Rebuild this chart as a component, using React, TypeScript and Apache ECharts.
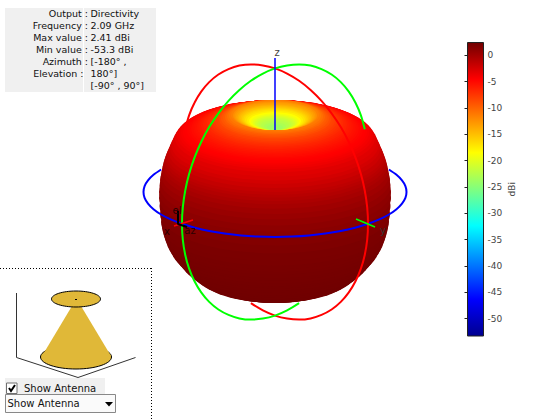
import React, { useEffect, useRef } from "react";
import * as echarts from "echarts";

const FONT = '"DejaVu Sans"';

// Read-out panel
const infoLabels = ["Output", "Frequency", "Max value", "Min value", "Azimuth", "Elevation", ""];
const infoValues = ["Directivity", "2.09 GHz", "2.41 dBi", "-53.3 dBi", "[-180\u00b0 ,", "180\u00b0]", "[-90\u00b0 , 90\u00b0]"];
const infoRows = [13, 25, 37, 49, 61, 73, 85];

// Colour bar
const barMin = -53.3;
const barMax = 2.41;
const barTicks = [0, -5, -10, -15, -20, -25, -30, -35, -40, -45, -50];
const jetLevels = [-53.3, -46.34, -32.4, -18.5, -4.57, 2.41];
const jetColors = [[0, 0, 143], [0, 0, 255], [0, 255, 255], [255, 255, 0], [255, 0, 0], [112, 0, 0]];

// Surface of the pattern: one latitude per entry, in picture units, painted bottom to top
const surfaceRadius = [40, 50, 60, 67, 75, 80, 85, 88.5, 92, 95, 98, 100.5, 103, 105, 107, 108.5, 110, 111, 112, 113, 114, 115, 115.5, 116, 116, 115.5, 115, 114, 113, 112, 111, 110, 109, 108, 106.5, 105, 103.5, 102, 100, 98, 96, 94, 92, 90, 88, 86, 84, 82, 80, 78, 76, 74, 72, 70, 68, 66, 64, 62, 60, 58, 56, 54, 52, 50, 48, 46, 44, 42, 40.5, 39, 37.5, 36, 34.5, 33, 31.5, 30, 28, 26, 24, 22, 20, 18, 16, 14, 11, 8];
const surfaceCentre = [289, 286, 282.5, 280, 277, 274, 270, 267, 264, 260.5, 257, 254, 251, 247.5, 244, 241, 237, 234, 231, 227, 222, 214, 206, 198, 192, 186, 180, 175, 170, 166, 163, 160, 157.5, 155, 151.5, 148, 145, 141.5, 138, 135.6, 134, 132.6, 131.7, 130.8, 130.1, 129.4, 128.7, 128, 127.4, 126.7, 126, 125.3, 124.6, 123.9, 123.3, 122.6, 121.9, 121.2, 120.5, 119.8, 119.2, 118.5, 117.8, 117.1, 116.4, 115.7, 115, 115.6, 116.1, 116.7, 117.2, 117.7, 118.2, 118.7, 119.2, 119.7, 120.4, 121.1, 121.8, 122.5, 123.2, 123.8, 124.5, 125.2, 126.2, 127.3];
const surfaceDbi = [2.41, 2.41, 2.41, 2.41, 2.41, 2.4, 2.38, 2.36, 2.33, 2.3, 2.28, 2.25, 2.22, 2.18, 2.15, 2.12, 2.08, 2.04, 2.0, 1.93, 1.85, 1.7, 1.5, 1.2, 1.0, 0.7, 0.42, 0.1, -0.25, -0.5, -0.8, -1.1, -1.4, -1.7, -2.1, -2.4, -2.8, -3.05, -3.45, -3.8, -4.05, -4.3, -4.45, -4.57, -4.75, -4.9, -5.1, -5.3, -5.45, -5.66, -5.9, -6.1, -6.35, -6.54, -6.85, -7.15, -7.4, -7.75, -8.05, -8.3, -8.8, -9.2, -9.6, -10.15, -10.7, -11.2, -11.6, -12.4, -13, -13.5, -14.1, -14.7, -15.2, -15.8, -16.4, -17, -17.7, -18.5, -19.2, -20, -20.8, -21.5, -22, -22.5, -23.1, -23.7];
const viewTilt = 0.342;

// Great-circle rings
const redRing = [[250.9, 303.2], [262.9, 310.4], [275, 315.6], [287.1, 318.6], [299.1, 319.6], [310.6, 318.4], [321.5, 314.9], [331.6, 309.5], [340.8, 301.9], [348.8, 292.4], [355.5, 281.3], [360.9, 268.7], [364.8, 254.7], [367.2, 239.6], [368, 223.8], [367.2, 207.4], [364.8, 190.7], [360.9, 174.1], [355.5, 157.7], [348.8, 142], [340.8, 127.1], [331.6, 113.3], [321.5, 100.9], [310.6, 90], [299.1, 80.8], [287.1, 73.6], [275, 68.4], [262.9, 65.4], [250.9, 64.4], [239.4, 65.6], [228.5, 69.1], [218.4, 74.5], [209.2, 82.1], [201.2, 91.6], [194.5, 102.7], [189.1, 115.3], [185.2, 129.3]];
const greenRing = [[299.1, 303.2], [287.1, 310.4], [275, 315.6], [262.9, 318.6], [250.9, 319.6], [239.4, 318.4], [228.5, 314.9], [218.4, 309.5], [209.2, 301.9], [201.2, 292.4], [194.5, 281.3], [189.1, 268.7], [185.2, 254.7], [182.8, 239.6], [182, 223.8], [182.8, 207.4], [185.2, 190.7], [189.1, 174.1], [194.5, 157.7], [201.2, 142], [209.2, 127.1], [218.4, 113.3], [228.5, 100.9], [239.4, 90], [250.9, 80.8], [262.9, 73.6], [275, 68.4], [287.1, 65.4], [299.1, 64.4], [310.6, 65.6], [321.5, 69.1], [331.6, 74.5], [340.8, 82.1], [348.8, 91.6], [355.5, 102.7], [360.9, 115.3], [364.8, 129.3]];
const blueRing = [[388.9, 169.5], [396.5, 174.8], [402, 180.4], [405.4, 186.1], [406.5, 192], [405.4, 197.9], [402, 203.6], [396.5, 209.2], [388.9, 214.5], [379.3, 219.4], [368, 223.8], [355.1, 227.7], [340.8, 231], [325.3, 233.6], [309, 235.5], [292.2, 236.6], [275, 237], [257.8, 236.6], [241, 235.5], [224.7, 233.6], [209.2, 231], [194.9, 227.7], [182, 223.8], [170.7, 219.4], [161.1, 214.5], [153.5, 209.2], [148, 203.6], [144.6, 197.9], [143.5, 192], [144.6, 186.1], [148, 180.4], [153.5, 174.8], [161.1, 169.5]];
const zAxisLine = [[275, 58], [275, 130]];
const xAxisTick = [[174, 226], [193, 220]];
const yAxisTick = [[356, 219], [375, 227]];
const azElMarker = [[178, 211], [178, 224], [187, 227]];

const dottedLine = { stroke: "#000", lineWidth: 1, lineDash: [1, 2] };

function jet(level: number): string {
  const v = Math.max(barMin, Math.min(barMax, level));
  let i = 0;
  while (i < jetLevels.length - 2 && v > jetLevels[i + 1]) i++;
  const t = (v - jetLevels[i]) / (jetLevels[i + 1] - jetLevels[i]);
  const c = jetColors[i].map((a, k) => Math.round(a + (jetColors[i + 1][k] - a) * t));
  return `rgb(${c[0]},${c[1]},${c[2]})`;
}

function txt(x: number, y: number, text: string, align = "left", size = 9.5, fill = "#111") {
  return {
    type: "text",
    x,
    y,
    z: 30,
    silent: true,
    style: { text, fill, font: `${size}px ${FONT}`, textAlign: align, textVerticalAlign: "middle" },
  };
}

function lineSeries(data: number[][], color: string, width: number, smooth: boolean | number, z: number) {
  return {
    type: "line",
    xAxisIndex: 0,
    yAxisIndex: 0,
    data,
    smooth,
    symbol: "none",
    silent: true,
    z,
    clip: false,
    lineStyle: { color, width },
  };
}

export default function App() {
  const ref = useRef<HTMLDivElement>(null);
  useEffect(() => {
    const chart = echarts.init(ref.current!, null, { renderer: "svg" });
    const graphic: any[] = [
      { type: "rect", z: 20, shape: { x: 5, y: 8, width: 151, height: 84 }, style: { fill: "#f0f0f0" } },
      { type: "rect", z: 21, shape: { x: 83, y: 8, width: 1, height: 84 }, style: { fill: "#fff" } },
      // Inset with the antenna
      { type: "line", z: 20, shape: { x1: 0, y1: 268.5, x2: 152, y2: 268.5 }, style: dottedLine },
      { type: "line", z: 20, shape: { x1: 151.5, y1: 268, x2: 151.5, y2: 420 }, style: dottedLine },
      { type: "polyline", z: 20, shape: { points: [[16.5, 293], [16.5, 357.5], [78, 377.5], [135.5, 357.5]] }, style: { stroke: "#333", lineWidth: 1, fill: "none" } },
      { type: "ellipse", z: 21, shape: { cx: 76, cy: 357, rx: 35.5, ry: 12 }, style: { fill: "#e0b838", stroke: "#000", lineWidth: 1 } },
      { type: "polygon", z: 22, shape: { points: [[72, 306], [81, 306], [111, 356], [42, 356]] }, style: { fill: "#e0b838" } },
      { type: "ellipse", z: 23, shape: { cx: 76, cy: 299, rx: 24.5, ry: 8 }, style: { fill: "#e0b838", stroke: "#000", lineWidth: 1 } },
      { type: "rect", z: 24, shape: { x: 75, y: 299, width: 2, height: 1 }, style: { fill: "#000" } },
      // Check box and drop-down
      { type: "rect", z: 25, shape: { x: 5, y: 378, width: 100, height: 16 }, style: { fill: "#f0f0f0" } },
      { type: "rect", z: 26, shape: { x: 6.5, y: 383, width: 10.5, height: 10.5 }, style: { fill: "#fff", stroke: "#707070", lineWidth: 1 } },
      { type: "polyline", z: 27, shape: { points: [[9, 388], [11, 391], [15, 385]] }, style: { stroke: "#000", lineWidth: 2, fill: "none" } },
      { type: "rect", z: 25, shape: { x: 5.5, y: 394.5, width: 110, height: 18 }, style: { fill: "#fafafa", stroke: "#888", lineWidth: 1 } },
      { type: "polygon", z: 26, shape: { points: [[105, 402], [113, 402], [109, 406.5]] }, style: { fill: "#000" } },
      txt(24, 388.5, "Show Antenna", "left", 10),
      txt(7.5, 403.5, "Show Antenna", "left", 10),
      // Axis names
      txt(277, 52, "z", "center", 10, "#444"),
      txt(167, 231, "x", "center", 10, "#2a0000"),
      txt(383, 230, "y", "center", 10, "#333"),
      txt(190, 230, "az", "center", 10, "#2a0000"),
      txt(177, 210, "el", "center", 10, "#2a0000"),
    ];
    infoLabels.forEach((label, i) => {
      if (label) {
        const colonX = label === "Elevation" ? 83.5 : 88;
        graphic.push(txt(colonX, infoRows[i], label + " :", "right"));
      }
      graphic.push(txt(90.5, infoRows[i], infoValues[i]));
    });

    const surface = surfaceRadius.map((r, i) => [275, surfaceCentre[i], r, surfaceDbi[i]]);
    const jetGradient = jetLevels.map((l) => ({ offset: (l - barMin) / (barMax - barMin), color: jet(l) }));

    chart.setOption({
      animation: false,
      backgroundColor: "#fff",
      grid: [
        { left: 0, top: 0, width: 560, height: 420 },
        { left: 467.5, top: 42.5, width: 16, height: 293.5 },
      ],
      xAxis: [
        { type: "value", gridIndex: 0, min: 0, max: 560, show: false },
        { type: "value", gridIndex: 1, min: 0, max: 1, show: false },
      ],
      yAxis: [
        { type: "value", gridIndex: 0, min: 0, max: 420, inverse: true, show: false },
        {
          type: "value",
          gridIndex: 1,
          position: "right",
          min: barMin,
          max: barMax,
          name: "dBi",
          nameLocation: "middle",
          nameRotate: 90,
          nameGap: 24,
          nameTextStyle: { color: "#444", fontFamily: FONT, fontSize: 9 },
          splitLine: { show: false },
          axisLine: { show: false },
          axisTick: { show: true, inside: true, length: 3, customValues: barTicks, lineStyle: { color: "#222" } },
          axisLabel: { show: true, customValues: barTicks, color: "#444", fontFamily: FONT, fontSize: 9, margin: 4, hideOverlap: false, showMinLabel: true, showMaxLabel: true },
        },
      ],
      graphic,
      series: [
        {
          type: "custom",
          xAxisIndex: 0,
          yAxisIndex: 0,
          z: 2,
          silent: true,
          clip: false,
          data: surface,
          renderItem: (_p: any, api: any) => {
            const c = api.coord([api.value(0), api.value(1)]);
            const s = api.size([api.value(2), api.value(2) * viewTilt]);
            return {
              type: "ellipse",
              shape: { cx: c[0], cy: c[1], rx: s[0], ry: s[1] },
              style: { fill: jet(api.value(3)) },
            };
          },
        },
        {
          type: "custom",
          xAxisIndex: 1,
          yAxisIndex: 1,
          z: 2,
          silent: true,
          clip: false,
          data: [[0, barMin, 1, barMax]],
          renderItem: (_p: any, api: any) => {
            const a = api.coord([api.value(0), api.value(3)]);
            const b = api.coord([api.value(2), api.value(1)]);
            return {
              type: "rect",
              shape: { x: a[0], y: a[1], width: b[0] - a[0], height: b[1] - a[1] },
              style: {
                fill: new echarts.graphic.LinearGradient(0, 1, 0, 0, jetGradient),
                stroke: "#222",
                lineWidth: 1,
              },
            };
          },
        },
        lineSeries(blueRing, "#0000ff", 2, 0.3, 5),
        lineSeries(redRing, "#ff0000", 2, 0.3, 6),
        lineSeries(greenRing, "#00ff00", 2, 0.3, 7),
        lineSeries(zAxisLine, "#0000ff", 1.5, false, 8),
        lineSeries(xAxisTick, "#ff0000", 1.5, false, 8),
        lineSeries(yAxisTick, "#00ff00", 1.5, false, 8),
        lineSeries(azElMarker, "#000000", 2, false, 9),
      ],
    });
    return () => chart.dispose();
  }, []);
  return <div ref={ref} style={{ position: "fixed", left: 0, top: 0, width: 560, height: 420 }} />;
}
